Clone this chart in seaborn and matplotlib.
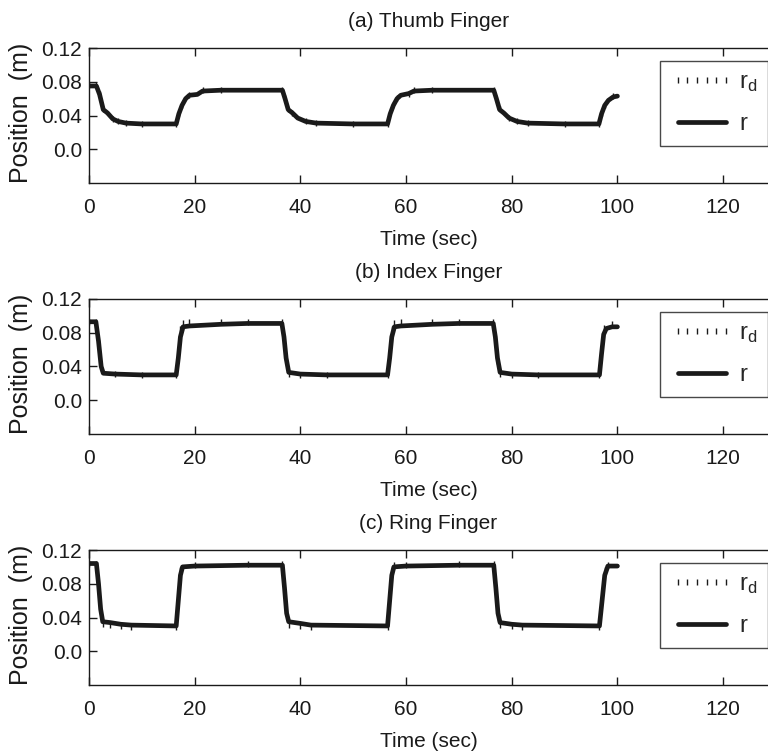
import matplotlib
matplotlib.use("Agg")
import matplotlib.pyplot as plt
from matplotlib import font_manager
import seaborn as sns

# ---- data (time in sec, position in m) ----
thumb_t = [0, 1.4, 2.0, 2.7, 3.5, 4.5, 5.5, 7, 10, 16.5, 17.0, 17.6, 18.3, 19.0, 20.5, 21.5, 25,
           36.6, 37.1, 37.7, 38.5, 39.5, 41, 43, 50, 56.5, 57.0, 57.6, 58.3, 59.0, 60.5, 61.5, 65,
           76.6, 77.1, 77.7, 78.5, 79.5, 81, 83, 90, 96.5, 97.0, 97.6, 98.3, 99.2, 100]
thumb_r = [0.075, 0.075, 0.065, 0.047, 0.043, 0.036, 0.033, 0.031, 0.030, 0.030, 0.042, 0.052, 0.060, 0.064, 0.065, 0.069, 0.070,
           0.070, 0.060, 0.047, 0.043, 0.037, 0.033, 0.031, 0.030, 0.030, 0.042, 0.052, 0.060, 0.064, 0.066, 0.069, 0.070,
           0.070, 0.060, 0.047, 0.043, 0.037, 0.033, 0.031, 0.030, 0.030, 0.042, 0.052, 0.058, 0.062, 0.063]
thumb_rd = [0.076, 0.076, 0.066, 0.048, 0.043, 0.036, 0.033, 0.031, 0.030, 0.030, 0.043, 0.053, 0.061, 0.064, 0.066, 0.070, 0.070,
            0.070, 0.061, 0.048, 0.043, 0.037, 0.033, 0.031, 0.030, 0.030, 0.043, 0.053, 0.061, 0.065, 0.066, 0.070, 0.070,
            0.070, 0.061, 0.048, 0.043, 0.037, 0.033, 0.031, 0.030, 0.030, 0.043, 0.053, 0.059, 0.063, 0.064]

index_t = [0, 1.3, 1.8, 2.3, 2.7, 5, 10, 16.5, 16.9, 17.3, 17.8, 19, 25, 30,
           36.5, 36.9, 37.3, 37.8, 40, 45, 56.5, 56.9, 57.3, 57.8, 59, 65, 70,
           76.5, 76.9, 77.3, 77.8, 80, 85, 96.6, 97.0, 97.4, 97.9, 99, 100]
index_r = [0.093, 0.093, 0.070, 0.040, 0.032, 0.031, 0.030, 0.030, 0.050, 0.075, 0.087, 0.088, 0.090, 0.091,
           0.091, 0.075, 0.050, 0.033, 0.031, 0.030, 0.030, 0.050, 0.075, 0.087, 0.088, 0.090, 0.091,
           0.091, 0.075, 0.050, 0.033, 0.031, 0.030, 0.030, 0.055, 0.078, 0.085, 0.087, 0.087]
index_rd = [0.093, 0.093, 0.068, 0.038, 0.031, 0.031, 0.030, 0.030, 0.058, 0.085, 0.092, 0.093, 0.093, 0.093,
            0.093, 0.072, 0.046, 0.031, 0.030, 0.030, 0.030, 0.058, 0.085, 0.092, 0.093, 0.093, 0.093,
            0.093, 0.072, 0.046, 0.031, 0.030, 0.030, 0.030, 0.062, 0.086, 0.090, 0.090, 0.090]

ring_t = [0, 1.4, 1.8, 2.2, 2.6, 4, 6, 8, 16.5, 16.9, 17.3, 17.7, 20, 30,
          36.6, 37.0, 37.4, 37.8, 40, 42, 56.5, 56.9, 57.3, 57.7, 60, 70,
          76.6, 77.0, 77.4, 77.8, 80, 82, 96.6, 97.1, 97.6, 98.2, 100]
ring_r = [0.104, 0.104, 0.080, 0.050, 0.035, 0.034, 0.032, 0.031, 0.030, 0.060, 0.090, 0.100, 0.101, 0.102,
          0.102, 0.075, 0.045, 0.035, 0.033, 0.031, 0.030, 0.060, 0.090, 0.100, 0.101, 0.102,
          0.102, 0.075, 0.045, 0.034, 0.032, 0.031, 0.030, 0.060, 0.090, 0.101, 0.101]
ring_rd = [0.104, 0.104, 0.074, 0.044, 0.032, 0.031, 0.030, 0.029, 0.029, 0.066, 0.096, 0.102, 0.102, 0.103,
           0.103, 0.070, 0.040, 0.031, 0.030, 0.029, 0.029, 0.066, 0.096, 0.102, 0.102, 0.103,
           0.103, 0.070, 0.040, 0.031, 0.030, 0.029, 0.029, 0.066, 0.096, 0.102, 0.102]

panel_titles = ["(a) Thumb Finger", "(b) Index Finger", "(c) Ring Finger"]
x_ticks = [0, 20, 40, 60, 80, 100, 120]
y_ticks = [0.0, 0.04, 0.08, 0.12]
y_tick_labels = ["0.0", "0.04", "0.08", "0.12"]

sns.set_style("ticks")
names = {f.name for f in font_manager.fontManager.ttflist}
if "Liberation Sans Narrow" in names:
    plt.rcParams["font.family"] = ["Liberation Sans Narrow", "DejaVu Sans"]
else:
    plt.rcParams["font.family"] = ["Liberation Sans", "DejaVu Sans"]
plt.rcParams["mathtext.default"] = "regular"
fs = 15

ink = "#1a1a1a"
fig = plt.figure(figsize=(7.68, 7.55), dpi=100)
bottoms = [0.7576, 0.4252, 0.0927]
series = [(thumb_t, thumb_r, thumb_rd), (index_t, index_r, index_rd), (ring_t, ring_r, ring_rd)]

for bot, title, (t, r, rd) in zip(bottoms, panel_titles, series):
    ax = fig.add_axes([0.1159, bot, 0.8841, 0.1788])
    sns.lineplot(x=t, y=rd, ax=ax, color=ink, linestyle="none", marker="|",
                 markersize=5, markeredgewidth=1.0, markeredgecolor=ink,
                 markevery=0.016, label="$r_d$")
    sns.lineplot(x=t, y=r, ax=ax, color=ink, linewidth=3.4, label="r")
    ax.set_xlim(0, 128.5)
    ax.set_ylim(-0.04, 0.12)
    ax.set_xticks(x_ticks)
    ax.set_xticklabels([str(v) for v in x_ticks])
    ax.set_yticks(y_ticks)
    ax.set_yticklabels(y_tick_labels)
    ax.tick_params(direction="in", top=True, right=False, length=6, width=1,
                   labelsize=fs, colors=ink)
    ax.tick_params(axis="x", pad=11)
    ax.tick_params(axis="y", pad=5)
    for side in ["left", "bottom", "top"]:
        ax.spines[side].set_color(ink)
        ax.spines[side].set_linewidth(1.0)
    ax.spines["right"].set_visible(False)
    ax.set_title(title, fontsize=fs, pad=15, color=ink)
    ax.set_xlabel("Time (sec)", fontsize=fs, color=ink, labelpad=9)
    ax.set_ylabel("Position  (m)", fontsize=18, color=ink, va="center")
    ax.yaxis.set_label_coords(-0.1, 0.52)
    leg = ax.legend(loc="upper right", bbox_to_anchor=(1.0, 0.905), borderaxespad=0,
                    fontsize=17, frameon=True, fancybox=False, numpoints=6,
                    handlelength=2.65, handletextpad=0.25, labelspacing=0.8,
                    borderpad=0.45)
    leg.get_frame().set_edgecolor(ink)
    leg.get_frame().set_linewidth(1.0)

fig.savefig("out.png", dpi=100)
